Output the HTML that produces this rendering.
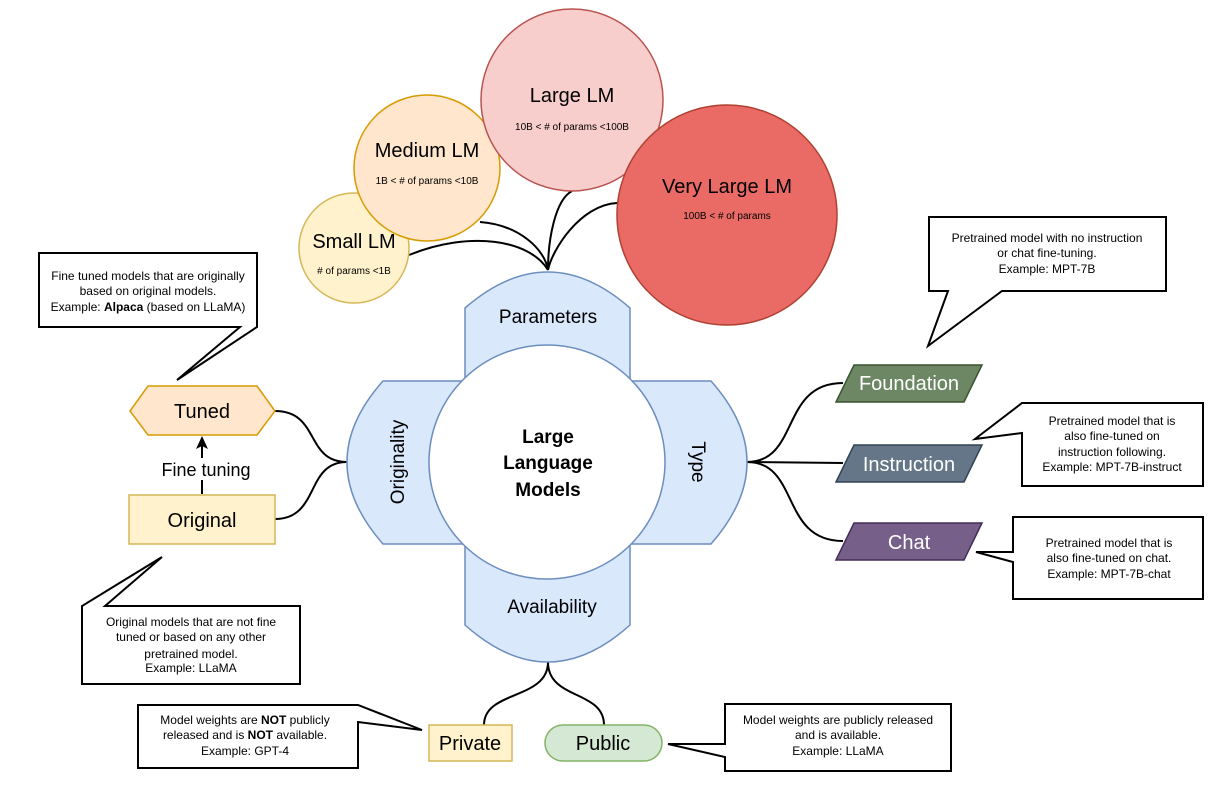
<!DOCTYPE html>
<html><head><meta charset="utf-8"><style>
html,body{margin:0;padding:0;background:#fff}
svg{display:block}
text{font-family:"Liberation Sans",Arial,sans-serif}
</style></head><body>
<svg width="1227" height="812" viewBox="0 0 1227 812" xmlns="http://www.w3.org/2000/svg">
<g fill="none" stroke="#000" stroke-width="2">
<path d="M409,255 C470,230 530,240 548,270"/>
<path d="M480,222 C520,225 545,250 548,270"/>
<path d="M572,191 C555,200 548,240 548,270"/>
<path d="M617,203 C580,205 552,250 548,270"/>
<path d="M275,411 C320,411 305,462 347,462"/>
<path d="M275,519 C320,519 305,462 347,462"/>
<path d="M747,462 C800,462 780,383 843,383"/>
<path d="M747,462 L843,463"/>
<path d="M747,462 C800,462 780,541 843,541"/>
<path d="M548,662 C548,700 484,690 484,725"/>
<path d="M548,662 C548,700 604,690 604,725"/>
<path d="M202,494 L202,445"/>
</g>
<path d="M202,436 L196,449 L202,446 L208,449 Z" fill="#000"/>
<circle cx="354" cy="248" r="55" fill="#fff2cc" stroke="#d6b656" stroke-width="1.5"/>
<circle cx="427" cy="168" r="73" fill="#ffe6cc" stroke="#d79b00" stroke-width="1.5"/>
<circle cx="572" cy="100" r="91" fill="#f8cecc" stroke="#b85450" stroke-width="1.5"/>
<circle cx="727" cy="215" r="110" fill="#ea6b66" stroke="#ae4132" stroke-width="1.5"/>
<text x="354" y="248" font-size="20" text-anchor="middle">Small LM</text>
<text x="354" y="274" font-size="10" text-anchor="middle"># of params &lt;1B</text>
<text x="427" y="157" font-size="20" text-anchor="middle">Medium LM</text>
<text x="427" y="184" font-size="10" text-anchor="middle">1B &lt; # of params &lt;10B</text>
<text x="572" y="102" font-size="20" text-anchor="middle">Large LM</text>
<text x="572" y="130" font-size="10" text-anchor="middle">10B &lt; # of params &lt;100B</text>
<text x="727" y="193" font-size="20" text-anchor="middle">Very Large LM</text>
<text x="727" y="219" font-size="10" text-anchor="middle">100B &lt; # of params</text>
<path d="M465,308 Q548,236 630,308 L630,381 L711,381 Q783,462 711,544 L630,544 L630,625 Q548,699 465,625 L465,544 L383,544 Q311,462 383,381 L465,381 Z" fill="#dae8fc" stroke="#6c8ebf" stroke-width="1.5"/>
<ellipse cx="547" cy="462" rx="118" ry="117" fill="#fff" stroke="#6c8ebf" stroke-width="1.5"/>
<text x="548" y="323" font-size="19" text-anchor="middle">Parameters</text>
<text x="552" y="613" font-size="19" text-anchor="middle">Availability</text>
<text transform="translate(404,462) rotate(-90)" font-size="19" text-anchor="middle">Originality</text>
<text transform="translate(692,462) rotate(90)" font-size="19" text-anchor="middle">Type</text>
<g font-size="19" font-weight="bold" text-anchor="middle">
<text x="548" y="443">Large</text><text x="548" y="469">Language</text><text x="548" y="496">Models</text></g>
<path d="M148,386 L257,386 L275,411 L257,435 L148,435 L130,411 Z" fill="#ffe6cc" stroke="#d79b00" stroke-width="1.5"/>
<text x="202" y="418" font-size="20" text-anchor="middle">Tuned</text>
<rect x="129" y="495" width="146" height="49" fill="#fff2cc" stroke="#d6b656" stroke-width="1.5"/>
<text x="202" y="527" font-size="20" text-anchor="middle">Original</text>
<rect x="155" y="458" width="102" height="22" fill="#fff"/>
<text x="206" y="476" font-size="18" text-anchor="middle">Fine tuning</text>
<path d="M854,365 L982,365 L964,402 L836,402 Z" fill="#6d8764" stroke="#3a5431" stroke-width="1.5"/>
<text x="909" y="390" font-size="20" fill="#fff" text-anchor="middle">Foundation</text>
<path d="M854,445 L982,445 L964,482 L836,482 Z" fill="#647687" stroke="#314354" stroke-width="1.5"/>
<text x="909" y="471" font-size="20" fill="#fff" text-anchor="middle">Instruction</text>
<path d="M854,523 L982,523 L964,560 L836,560 Z" fill="#76608a" stroke="#432d57" stroke-width="1.5"/>
<text x="909" y="549" font-size="20" fill="#fff" text-anchor="middle">Chat</text>
<rect x="429" y="725" width="83" height="36" fill="#fff2cc" stroke="#d6b656" stroke-width="1.5"/>
<text x="470" y="750" font-size="20" text-anchor="middle">Private</text>
<rect x="545" y="725" width="117" height="36" rx="18" fill="#d5e8d4" stroke="#82b366" stroke-width="1.5"/>
<text x="603" y="750" font-size="20" text-anchor="middle">Public</text>
<g fill="#fff" stroke="#000" stroke-width="2">
<path d="M39,253 H257 V327 L177,380 L240,327 H39 Z"/>
<path d="M82,684 V606 L162,557 L105,606 H300 V684 Z"/>
<path d="M929,217 H1166 V291 H1002 L928,346 L948,291 H929 Z"/>
<path d="M1022,403 H1203 V486 H1022 V433 L975,439 Z"/>
<path d="M1013,517 H1203 V599 H1013 V562 L976,552 L1013,552 Z"/>
<path d="M138,705 H358 L422,730 L358,722 V768 H138 Z"/>
<path d="M725,704 H951 V771 H725 V757 L668,744 L725,744 Z"/>
</g>
<g font-size="12" text-anchor="middle">
<text x="148" y="280">Fine tuned models that are originally</text>
<text x="148" y="295">based on original models.</text>
<text x="148" y="311">Example: <tspan font-weight="bold">Alpaca</tspan> (based on LLaMA)</text>
<text x="191" y="626">Original models that are not fine</text>
<text x="191" y="641">tuned or based on any other</text>
<text x="191" y="658">pretrained model.</text>
<text x="191" y="672">Example: LLaMA</text>
<text x="1047" y="242">Pretrained model with no instruction</text>
<text x="1047" y="257">or chat fine-tuning.</text>
<text x="1047" y="273">Example: MPT-7B</text>
<text x="1112" y="425">Pretrained model that is</text>
<text x="1112" y="440">also fine-tuned on</text>
<text x="1112" y="456">instruction following.</text>
<text x="1112" y="471">Example: MPT-7B-instruct</text>
<text x="1109" y="547">Pretrained model that is</text>
<text x="1109" y="562">also fine-tuned on chat.</text>
<text x="1109" y="578">Example: MPT-7B-chat</text>
<text x="245" y="724">Model weights are <tspan font-weight="bold">NOT</tspan> publicly</text>
<text x="245" y="739">released and is <tspan font-weight="bold">NOT</tspan> available.</text>
<text x="245" y="755">Example: GPT-4</text>
<text x="838" y="724">Model weights are publicly released</text>
<text x="838" y="739">and is available.</text>
<text x="838" y="755">Example: LLaMA</text>
</g>
</svg>
</body></html>
